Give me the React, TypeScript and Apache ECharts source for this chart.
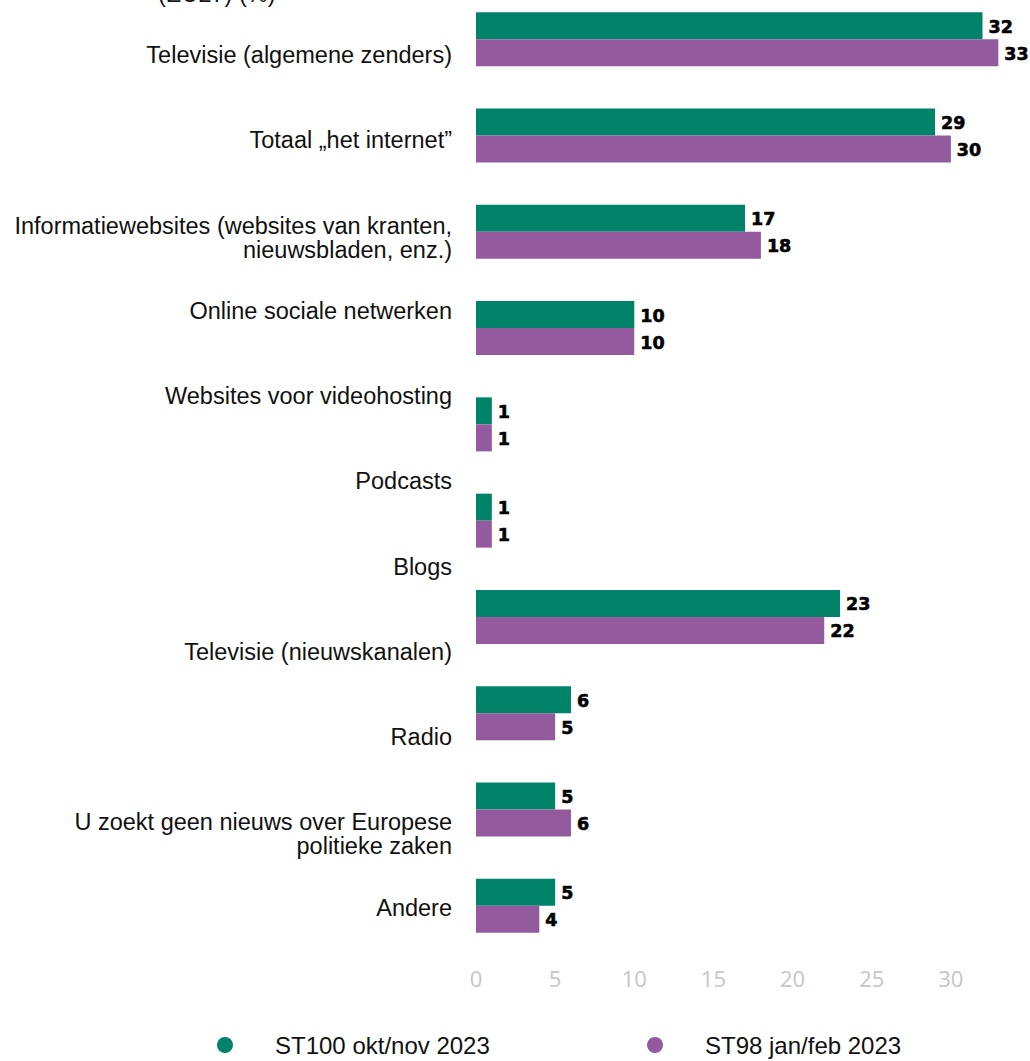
import React, { useEffect, useRef } from "react";
import * as echarts from "echarts";

const labelCategories = [
  "Televisie (algemene zenders)",
  "Totaal „het internet”",
  "Informatiewebsites (websites van kranten,\nnieuwsbladen, enz.)",
  "Online sociale netwerken",
  "Websites voor videohosting",
  "Podcasts",
  "Blogs",
  "Televisie (nieuwskanalen)",
  "Radio",
  "U zoekt geen nieuws over Europese\npolitieke zaken",
  "Andere",
];

// bars shown in the picture (Blogs has no bars)
const barCategories = labelCategories.filter((c) => c !== "Blogs");
const st100 = [32, 29, 17, 10, 1, 1, 23, 6, 5, 5];
const st98 = [33, 30, 18, 10, 1, 1, 22, 5, 6, 4];
const seriesNames = ["ST100 okt/nov 2023", "ST98 jan/feb 2023"];
const colors = ["#008369", "#935b9e"];
const titleTail = "(EU27) (%)";

export default function App() {
  const ref = useRef<HTMLDivElement>(null);
  useEffect(() => {
    if (!ref.current) return;
    const chart = echarts.init(ref.current, undefined, { renderer: "svg" });
    const valueLabel = {
      show: true,
      position: "right" as const,
      distance: 6,
      offset: [0, 1],
      fontFamily: "DejaVu Sans",
      fontWeight: "bold" as const,
      fontSize: 17.5,
      color: "#000",
      textBorderColor: "#000",
      textBorderWidth: 0.6,
    };
    const legendText = {
      fontFamily: "Liberation Sans",
      fontSize: 24,
      color: "#111",
      padding: [0, 0, 0, 37],
    };
    chart.setOption({
      animation: false,
      backgroundColor: "#fff",
      graphic: [
        {
          type: "text",
          left: 158,
          top: -8,
          style: {
            text: titleTail,
            fontFamily: "Liberation Sans",
            fontSize: 23.5,
            fill: "#111",
          },
        },
      ],
      legend: [
        {
          data: [seriesNames[0]],
          left: 217,
          top: 1043,
          padding: 0,
          icon: "circle",
          itemWidth: 16,
          itemHeight: 18,
          textStyle: legendText,
        },
        {
          data: [seriesNames[1]],
          left: 647,
          top: 1043,
          padding: 0,
          icon: "circle",
          itemWidth: 16,
          itemHeight: 18,
          textStyle: legendText,
        },
      ],
      grid: [
        { left: 476, right: 0, top: 1, bottom: 107, containLabel: false },
        { left: 452, width: 10, top: 22.35, height: 938, containLabel: false },
      ],
      xAxis: [
        {
          type: "value",
          gridIndex: 0,
          min: 0,
          max: 35,
          interval: 5,
          splitLine: { show: false },
          axisLine: { show: false },
          axisTick: { show: false },
          axisLabel: {
            showMaxLabel: false,
            margin: 13,
            fontFamily: "Open Sans",
            fontSize: 22,
            color: "#c6c6c6",
          },
        },
        { type: "value", gridIndex: 1, show: false },
      ],
      yAxis: [
        {
          type: "category",
          gridIndex: 0,
          data: barCategories,
          inverse: true,
          axisLine: { show: false },
          axisTick: { show: false },
          axisLabel: { show: false },
        },
        {
          type: "category",
          gridIndex: 1,
          data: labelCategories,
          inverse: true,
          axisLine: { show: false },
          axisTick: { show: false },
          axisLabel: {
            margin: 0,
            align: "right",
            fontFamily: "Liberation Sans",
            fontSize: 23.5,
            lineHeight: 24,
            color: "#111",
            formatter: (v: string) => (v.includes("\n") ? "\n" + v : v),
          },
        },
      ],
      series: [
        {
          name: seriesNames[0],
          type: "bar",
          xAxisIndex: 0,
          yAxisIndex: 0,
          data: st100,
          barWidth: 27,
          barGap: "0%",
          itemStyle: { color: colors[0] },
          label: valueLabel,
        },
        {
          name: seriesNames[1],
          type: "bar",
          xAxisIndex: 0,
          yAxisIndex: 0,
          data: st98,
          barWidth: 27,
          barGap: "0%",
          itemStyle: { color: colors[1] },
          label: valueLabel,
        },
      ],
    });
    return () => chart.dispose();
  }, []);
  return (
    <div
      ref={ref}
      style={{ width: 1030, height: 1071, position: "absolute", left: 0, top: -10 }}
    />
  );
}
